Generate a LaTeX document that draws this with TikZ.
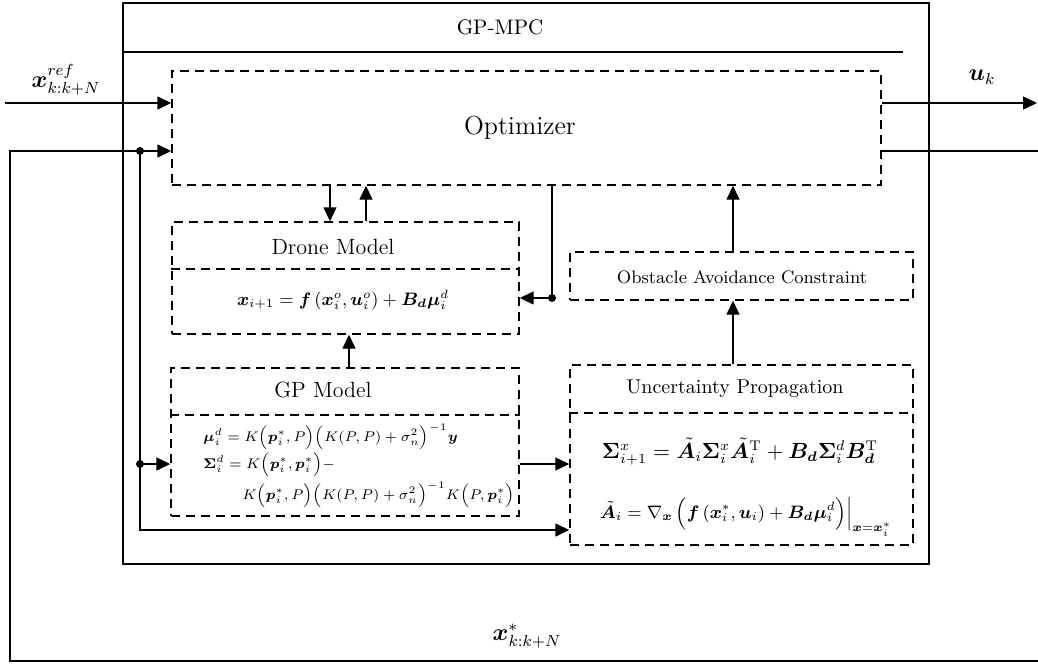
\documentclass[tikz,border=0pt]{standalone}
\usepackage{amsmath,amssymb}
\usepackage{bm}
\usetikzlibrary{arrows.meta,positioning,fit}

\begin{document}
\begin{tikzpicture}[x=0.5pt, y=-0.5pt, >={Triangle[length=7pt,width=6.5pt]},
    dbox/.style={draw, dash pattern=on 4.5pt off 3pt, line width=0.7pt, inner sep=0pt},
    dsepline/.style={dash pattern=on 4.5pt off 3pt, line width=0.7pt},
    flow/.style={->, line width=0.7pt},
    wire/.style={line width=0.7pt},
    ttl/.style={font=\fontsize{11}{13}\selectfont},
    gpeq/.style={font=\fontsize{6.6}{8}\selectfont, anchor=west, inner sep=0pt},
    sig/.style={font=\fontsize{11.5}{13}\selectfont}]
    \useasboundingbox (0,0) rectangle (1038,664);
    % controller frame
    \node[draw, line width=0.8pt, inner sep=0pt, fit={(123,3) (929,564)}] (mpc) {};
    \node[font=\fontsize{10.5}{12}\selectfont] (mpctitle) at (500,27) {GP-MPC};
    \coordinate (tline) at (903,52);
    \draw[wire] (mpc.west |- tline) -- (tline);
    % blocks
    \node[dbox, fit={(172,71) (881,185)}] (opt) {};
    \node[dbox, fit={(172,222) (519,334)}] (drone) {};
    \node[dbox, fit={(171,368) (519,516)}] (gp) {};
    \node[dbox, fit={(570,252) (913,300)}] (oac) {};
    \node[dbox, fit={(570,365) (913,545)}] (unc) {};
    \coordinate (dsep) at (0,269);
    \coordinate (gsep) at (0,415);
    \coordinate (usep) at (0,413);
    \draw[dsepline] (drone.west |- dsep) -- (drone.east |- dsep);
    \draw[dsepline] (gp.west |- gsep) -- (gp.east |- gsep);
    \draw[dsepline] (unc.west |- usep) -- (unc.east |- usep);
    % texts
    \node[font=\fontsize{13}{15}\selectfont] (opttext) at (520,128) {Optimizer};
    \node[ttl] (dronetitle) at (333,247) {Drone Model};
    \node[ttl] (gptitle) at (323,390) {GP Model};
    \node[font=\fontsize{10}{12}\selectfont] (unctitle) at (735,389) {Uncertainty Propagation};
    \node[font=\small] (oactext) at (742,277) {Obstacle Avoidance Constraint};
    \node[font=\small] (droneeq) at (343,300) {$\bm{x}_{i+1}=\bm{f}\left(\bm{x}_i^o,\bm{u}_i^o\right)+\bm{B_d}\bm{\mu}_i^d$};
    \node[gpeq] (gpeq1) at (203,437) {$\bm{\mu}_i^d=K\Bigl(\bm{p}_i^*,P\Bigr)\Bigl(K(P,P)+\sigma_n^2\Bigr)^{-1}\bm{y}$};
    \node[gpeq] (gpeq2) at (203,465) {$\bm{\Sigma}_i^d=K\Bigl(\bm{p}_i^*,\bm{p}_i^*\Bigr)-$};
    \node[gpeq] (gpeq3) at (242,495) {$K\Bigl(\bm{p}_i^*,P\Bigr)\Bigl(K(P,P)+\sigma_n^2\Bigr)^{-1}K\Bigl(P,\bm{p}_i^*\Bigr)$};
    \node[font=\fontsize{10.5}{12}\selectfont] (unceq1) at (740,452) {$\bm{\Sigma}_{i+1}^x=\tilde{\bm{A}}_i\bm{\Sigma}_i^x\tilde{\bm{A}}_i^{\mathrm{T}}+\bm{B_d}\bm{\Sigma}_i^d\bm{B}_{\bm{d}}^{\mathrm{T}}$};
    \node[font=\small] (unceq2) at (746,517) {$\tilde{\bm{A}}_i=\nabla_{\bm{x}}\,\Bigl(\bm{f}\left(\bm{x}_i^*,\bm{u}_i\right)+\bm{B_d}\bm{\mu}_i^d\Bigr)\Big|_{\bm{x}=\bm{x}_i^*}$};
    % signals in and out
    \coordinate (xin) at (5,103);
    \coordinate (uout) at (1037,103);
    \coordinate (fbL) at (10,151);
    \coordinate (fbR) at (1038,151);
    \coordinate (botL) at (10,661);
    \coordinate (botR) at (1038,661);
    \coordinate (j1) at (140,151);
    \coordinate (j2) at (140,464);
    \coordinate (low) at (0,530);
    \draw[flow] (xin) -- (opt.west |- xin);
    \node[sig] (xref) at (66,80) {$\bm{x}_{k:k+N}^{ref}$};
    \draw[flow] (opt.east |- uout) -- (uout);
    \node[sig] (uk) at (982,77) {$\bm{u}_k$};
    \draw[wire] (opt.east |- fbR) -- (fbR);
    \draw[flow] (botR) -- (botL) -- (fbL) -- (opt.west |- fbL);
    \node[sig] (xstar) at (527,636) {$\bm{x}_{k:k+N}^*$};
    \draw[flow] (j1) |- (unc.west |- low);
    \draw[flow] (j2) -- (gp.west |- j2);
    \draw[flow] (gp.east |- j2) -- (unc.west |- j2);
    % inner links
    \coordinate (c1) at (330,0);
    \coordinate (c2) at (366,0);
    \coordinate (c3) at (349,0);
    \coordinate (c4) at (552,0);
    \coordinate (c5) at (733,0);
    \coordinate (r1) at (0,298);
    \draw[flow] (opt.south -| c1) -- (drone.north -| c1);
    \draw[flow] (drone.north -| c2) -- (opt.south -| c2);
    \draw[flow] (gp.north -| c3) -- (drone.south -| c3);
    \draw[flow] (opt.south -| c4) |- (drone.east |- r1);
    \coordinate (j3) at (c4 |- r1);
    \draw[flow] (oac.north -| c5) -- (opt.south -| c5);
    \draw[flow] (unc.north -| c5) -- (oac.south -| c5);
    \foreach \p in {j1,j2,j3} \fill (\p) circle (2pt);
\end{tikzpicture}
\end{document}
